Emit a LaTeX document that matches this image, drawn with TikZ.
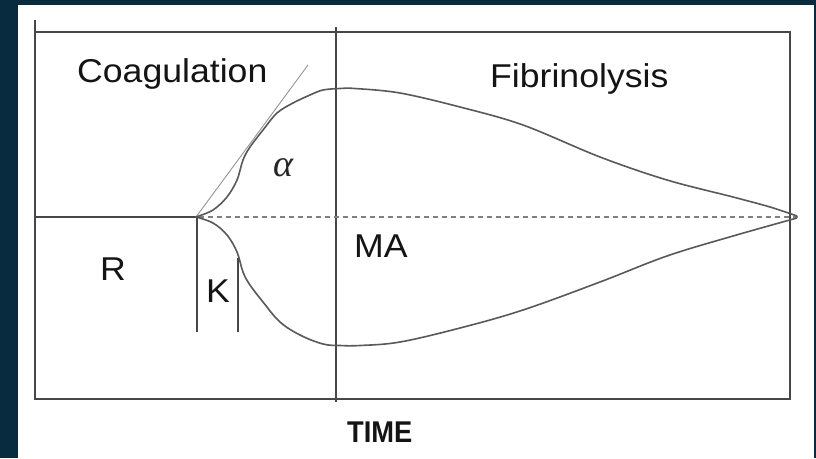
\documentclass[tikz,border=0pt]{standalone}
\usepackage{fontspec}
\setmainfont{Liberation Sans}
\newfontfamily\lblfont{Liberation Sans}[FakeStretch=1.08]
\newfontfamily\timefont{Liberation Sans}[FakeStretch=0.91]
\newfontfamily\alphafont{Liberation Serif}
\begin{document}
\begin{tikzpicture}[x=1pt,y=-1pt,
  framel/.style={line width=1.8pt,draw=black!72},
  curvel/.style={line width=1.6pt,draw=black!65,line join=round},
  tanl/.style={line width=0.9pt,draw=black!42},
  dashl/.style={line width=1.8pt,draw=black!50,dash pattern=on 5pt off 4pt},
  lbl/.style={inner sep=0pt,anchor=base west,font=\lblfont\fontsize{33}{36}\selectfont,text=black!92}]
\useasboundingbox (0,0) rectangle (816,458);
\fill[fill={rgb,255:red,8;green,43;blue,64}] (0,0) rectangle (816,458);
\fill[white] (18,5) rectangle (814,458);
% frame
\coordinate (tl) at (35,32);
\coordinate (tr) at (790,32);
\coordinate (bl) at (35,399);
\coordinate (br) at (790,399);
\draw[framel] (35,20) -- (bl) -- (br) -- (tr) -- (tl);
\draw[framel] (336,27) -- (336,402);
% baseline
\coordinate (o) at (196,217);
\coordinate (e) at (798,217);
\draw[framel] (bl |- o) -- (o);
\draw[dashl] (199,217) -- (e);
% K lines
\draw[framel,line width=1.5pt] (197,217) -- (197,332);
\draw[framel,line width=1.5pt] (238,258) -- (238,332);
% tangent
\draw[tanl] (o) -- (308,65);
% upper curve
\draw[curvel] plot[smooth,tension=0.55] coordinates {(196,217) (213,210) (227,197) (237,180) (243,160) (250,147) (263,130) (277,113) (293,103) (310,95) (323,90) (340,88.5) (355,88.5) (400,93) (460,107) (523,125) (600,157) (667,180) (733,197) (770,207) (797,216)};
% lower curve
\draw[curvel] plot[smooth,tension=0.6] coordinates {(196,217) (213,223) (227,235) (237,252) (243,272) (250,285) (263,302) (280,322) (300,335) (323,344) (340,345.5) (360,345.5) (400,342) (460,328) (523,310) (600,282) (667,256) (733,236) (797,218)};
% labels
\node[lbl] (coag) at (77,82) {Coagulation};
\node[lbl] (fib) at (490,87) {Fibrinolysis};
\node[lbl] (r) at (100,280) {R};
\node[lbl] (k) at (206,302) {K};
\node[lbl] (ma) at (354,257) {MA};
\node[inner sep=0pt,text=black!85,font=\alphafont\itshape\fontsize{38}{40}\selectfont] (alpha) at (283,168) {α};
\node[inner sep=0pt,anchor=base west,text=black!92,font=\timefont\bfseries\fontsize{30}{32}\selectfont] (time) at (347,442) {TIME};
\end{tikzpicture}
\end{document}
